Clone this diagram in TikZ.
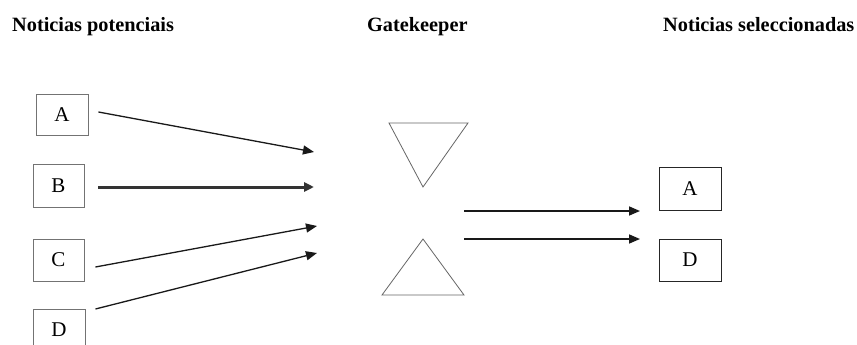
\documentclass[tikz,border=0pt]{standalone}
\usepackage{fontspec}
\setmainfont{Liberation Serif}
\usetikzlibrary{arrows.meta,calc}
\begin{document}
\begin{tikzpicture}[x=1pt,y=-1pt,
  title/.style={font=\fontsize{20.3}{22}\selectfont\bfseries, anchor=base west, inner sep=0pt},
  item/.style={draw=black!55, line width=0.9pt, minimum width=52pt, minimum height=42pt, inner sep=0pt, font=\fontsize{21}{22}\selectfont},
  itemdark/.style={item, draw=black!85},
  arr/.style={-{Triangle[length=11pt,width=9pt]}, line width=1.3pt, black!90},
  tri/.style={draw=black!60, line width=0.8pt}]
\useasboundingbox[fill=white] (0,0) rectangle (857,345);
% titles
\node[title] (t1) at (12,32) {Noticias potenciais};
\node[title] (t2) at (367,32) {Gatekeeper};
\node[title] (t3) at (663,32) {Noticias seleccionadas};
% left boxes
\node[item, minimum width=52pt, minimum height=41pt] (a) at (62,114.5) {A};
\node[item, minimum width=51pt, minimum height=43pt] (b) at (58.5,185.5) {B};
\node[item, minimum width=51pt, minimum height=42pt] (c) at (58.5,260) {C};
\node[item, minimum width=52pt, minimum height=42pt] (d) at (59,330) {D};
% right boxes
\node[itemdark, minimum width=62pt, minimum height=43pt] (ra) at (690,188.5) {A};
\node[itemdark, minimum width=62pt, minimum height=42pt] (rd) at (690,260) {D};
% gatekeeper triangles
\coordinate (g1) at (389,123);
\coordinate (g2) at (468,123);
\coordinate (g3) at (423,187);
\coordinate (h1) at (423,239);
\coordinate (h2) at (464,295);
\coordinate (h3) at (382,295);
\draw[tri] (g1) -- (g2) -- (g3) -- cycle;
\draw[tri] (h1) -- (h2) -- (h3) -- cycle;
% arrow ends
\coordinate (sa) at ($(a.east)+(10,-2.5)$);
\coordinate (ea) at (314,152);
\coordinate (sb) at ($(b.east)+(14,1.5)$);
\coordinate (eb) at (314,187);
\coordinate (sc) at ($(c.east)+(11,7)$);
\coordinate (ec) at (317,226);
\coordinate (sd) at ($(d.east)+(10,-21)$);
\coordinate (ed) at (317,253);
\coordinate (s1) at (464,211);
\coordinate (e1) at (640,211);
\coordinate (s2) at (464,239);
\coordinate (e2) at (640,239);
\draw[arr] (sa) -- (ea);
\draw[-{Triangle[length=10pt,width=9pt]}, line width=3pt, black!80] (sb) -- (eb);
\draw[arr] (sc) -- (ec);
\draw[arr] (sd) -- (ed);
\draw[arr, line width=1.6pt] (s1) -- (e1);
\draw[arr, line width=1.6pt] (s2) -- (e2);
\end{tikzpicture}
\end{document}
